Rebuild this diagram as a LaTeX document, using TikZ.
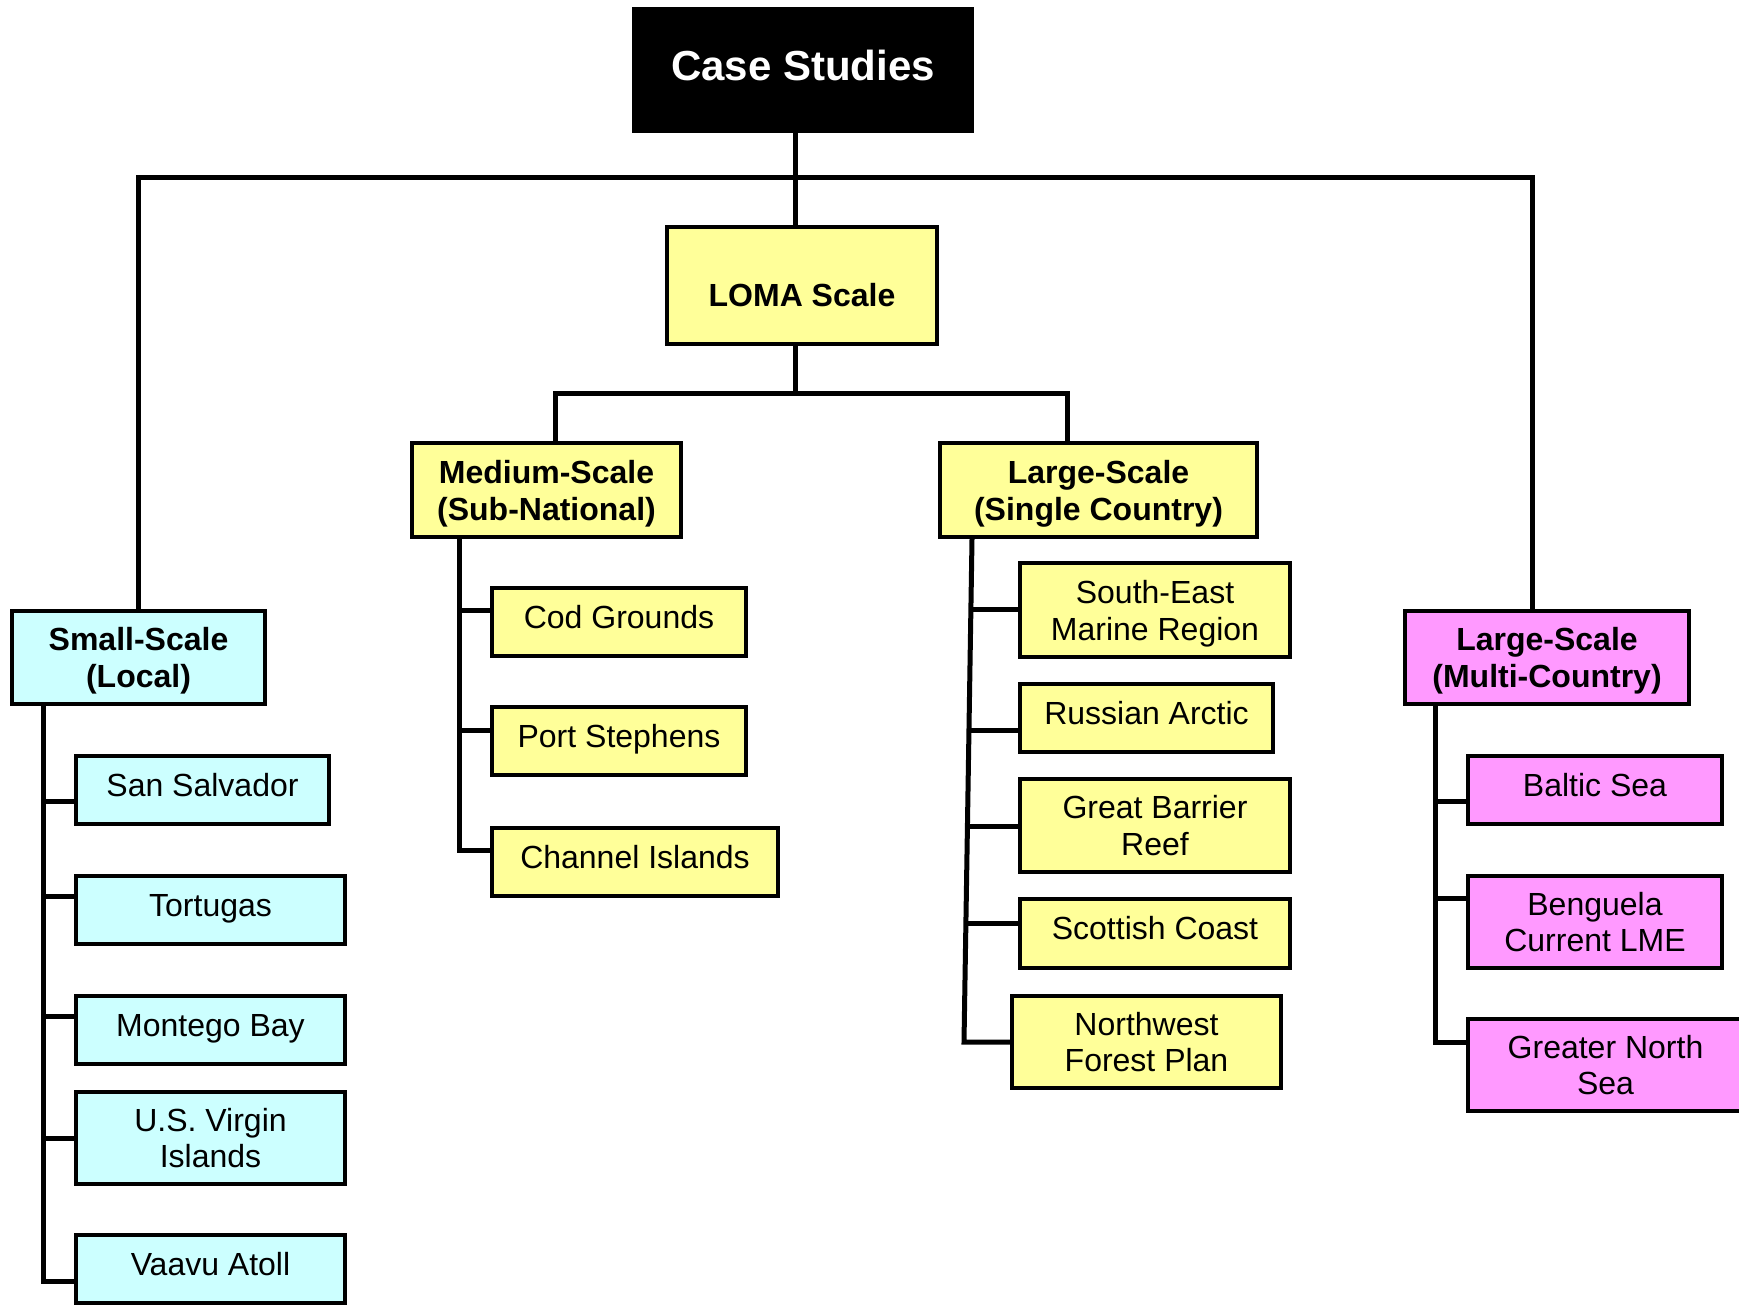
\documentclass[tikz,border=0pt]{standalone}
\usepackage{fontspec}
\setmainfont{Liberation Sans}
\definecolor{cyanbg}{HTML}{CCFFFF}
\definecolor{yellowbg}{HTML}{FFFF99}
\definecolor{pinkbg}{HTML}{FF99FF}
\begin{document}
\begin{tikzpicture}[x=1pt, y=-1pt,
  box/.style={draw, line width=4pt, align=center, inner sep=0pt,
    font=\fontsize{32}{36.8}\selectfont},
  head/.style={box, font=\fontsize{32}{36.8}\selectfont\bfseries, text depth=-1pt},
  one/.style={text height=23pt, text depth=11pt},
  cbox/.style={box, fill=cyanbg},
  ybox/.style={box, fill=yellowbg},
  pbox/.style={box, fill=pinkbg},
  link/.style={line width=5pt}]
\useasboundingbox (0,0) rectangle (1739,1304);
% top levels
\node[box, fill=black, text=white, font=\fontsize{42}{48}\selectfont\bfseries, text height=30pt, text depth=10pt, minimum width=338pt, minimum height=122pt] (cs) at (803,70) {Case Studies};
\node[head, fill=yellowbg, text height=41pt, text depth=0pt, minimum width=270pt, minimum height=117pt] (loma) at (802,285.5) {LOMA Scale};
\node[head, fill=yellowbg, minimum width=269pt, minimum height=94pt] (medium) at (546.5,490) {Medium-Scale\\(Sub-National)};
\node[head, fill=yellowbg, minimum width=317pt, minimum height=94pt] (lsingle) at (1098.5,490) {Large-Scale\\(Single Country)};
\node[head, fill=cyanbg, minimum width=253pt, minimum height=93pt] (small) at (138.5,657.5) {Small-Scale\\(Local)};
\node[head, fill=pinkbg, minimum width=284pt, minimum height=93pt] (multi) at (1547,657.5) {Large-Scale\\(Multi-Country)};
% small-scale cases
\node[cbox, one, minimum width=253pt, minimum height=68pt] (sansal) at (202.5,790) {San Salvador};
\node[cbox, one, minimum width=269pt, minimum height=68pt] (tortugas) at (210.5,910) {Tortugas};
\node[cbox, one, minimum width=269pt, minimum height=68pt] (montego) at (210.5,1030) {Montego Bay};
\node[cbox, minimum width=269pt, minimum height=92pt] (usvi) at (210.5,1138) {U.S. Virgin\\Islands};
\node[cbox, one, minimum width=269pt, minimum height=68pt] (vaavu) at (210.5,1269) {Vaavu Atoll};
% medium-scale cases
\node[ybox, one, minimum width=254pt, minimum height=68pt] (cod) at (619,622) {Cod Grounds};
\node[ybox, one, minimum width=254pt, minimum height=68pt] (portst) at (619,741) {Port Stephens};
\node[ybox, one, minimum width=286pt, minimum height=68pt] (channel) at (635,862) {Channel Islands};
% single country cases
\node[ybox, text depth=0pt, minimum width=270pt, minimum height=94pt] (semr) at (1155,610) {South-East\\Marine Region};
\node[ybox, one, minimum width=253pt, minimum height=68pt] (arctic) at (1146.5,718) {Russian Arctic};
\node[ybox, minimum width=270pt, minimum height=93pt] (gbr) at (1155,825.5) {Great Barrier\\Reef};
\node[ybox, one, minimum width=270pt, minimum height=69pt] (scottish) at (1155,933.5) {Scottish Coast};
\node[ybox, minimum width=269pt, minimum height=92pt] (nwfp) at (1146.5,1042) {Northwest\\Forest Plan};
% multi-country cases
\node[pbox, one, minimum width=254pt, minimum height=68pt] (baltic) at (1595,790) {Baltic Sea};
\node[pbox, minimum width=254pt, minimum height=92pt] (benguela) at (1595,922) {Benguela\\Current LME};
\node[pbox, minimum width=275pt, minimum height=92pt] (gns) at (1605.5,1065) {Greater North\\Sea};
% tree lines
\draw[link] (cs.south -| 795,0) -- (loma.north -| 795,0);
\draw[link] (small.north) |- (795,177) -| (multi.north -| 1532,0);
\draw[link] (loma.south -| 795,0) -- (795,393);
\draw[link] (medium.north -| 555,0) |- (795,393) -| (lsingle.north -| 1067,0);
\draw[link] (small.south -| 43,0) |- (vaavu.west |- 0,1281);
\foreach \n/\t in {sansal/801, tortugas/896, montego/1016, usvi/1138}
  \draw[link] (43,\t) -- (\n.west |- 0,\t);
\draw[link] (medium.south -| 459,0) |- (channel.west |- 0,850);
\foreach \n/\t in {cod/610, portst/730}
  \draw[link] (459,\t) -- (\n.west |- 0,\t);
\draw[link] (lsingle.south -| 972,0) -- (964,1042) -- (nwfp.west |- 0,1042);
\foreach \n/\x/\t in {semr/971/609, arctic/969/730, gbr/967/826, scottish/966/923}
  \draw[link] (\x,\t) -- (\n.west |- 0,\t);
\draw[link] (multi.south -| 1435,0) |- (gns.west |- 0,1042);
\foreach \n/\t in {baltic/801, benguela/898}
  \draw[link] (1435,\t) -- (\n.west |- 0,\t);
\end{tikzpicture}
\end{document}
